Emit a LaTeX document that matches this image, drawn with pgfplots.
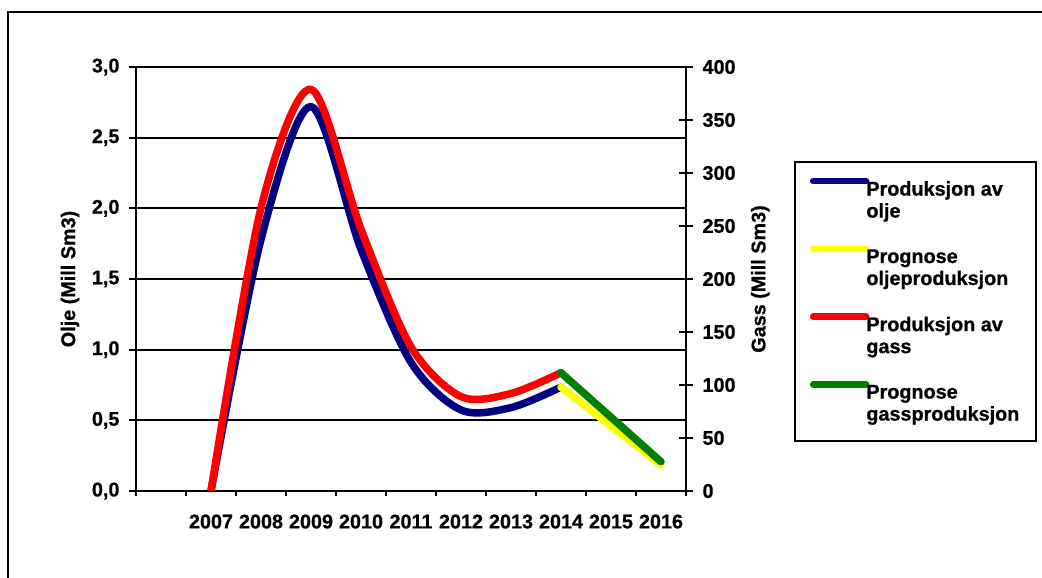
\documentclass[border=0pt]{standalone}
\usepackage{fontspec}
\setmainfont{Liberation Sans}[BoldFeatures={FakeBold=0.8}]
\usepackage{pgfplots}
\pgfplotsset{compat=1.18}
\definecolor{oilblue}{HTML}{000080}
\definecolor{prgyellow}{HTML}{FFFF00}
\definecolor{gasred}{HTML}{FF0000}
\definecolor{prggreen}{HTML}{008000}
\newcommand{\chfont}{\bfseries\fontsize{19.8}{22}\selectfont}
\begin{document}
\begin{tikzpicture}[x=1pt,y=1pt]
\useasboundingbox (0,0) rectangle (1042,578);
\draw[line width=2.2pt] (8,-30) -- (8,566) -- (1080,566);
\pgfplotsset{
  every axis/.append style={
    scale only axis, width=550pt, height=424pt,
    at={(136pt,87pt)}, anchor=south west,
    xmin=-0.5, xmax=10.5,
    font=\chfont,
    /pgf/number format/assume math mode=true,
    ticklabel style={font=\chfont},
    tick style={black, line width=2.2pt},
    axis line style={black, line width=2.2pt},
  },
}
\begin{axis}[
  ymin=0, ymax=3,
  ytick={0,0.5,...,3},
  yticklabel style={/pgf/number format/use comma, /pgf/number format/fixed,
    /pgf/number format/fixed zerofill, /pgf/number format/precision=1, /tikz/xshift=-6pt},
  xtick={1,...,10},
  xticklabels={2007,2008,2009,2010,2011,2012,2013,2014,2015,2016},
  xticklabel style={yshift=-13pt},
  minor xtick={-0.5,0.5,...,10.5},
  major x tick style={draw=none},
  minor tick length=5pt,
  major tick length=7pt,
  xtick pos=bottom, ytick pos=left,
  xtick align=outside, ytick align=outside,
  ymajorgrids,
  major grid style={black, line width=2.2pt},
  every axis y label/.style={at={(axis description cs:-0.12,0.5)}, rotate=90, anchor=center},
  ylabel={Olje (Mill Sm3)},
]
\addplot[oilblue, line width=7.5pt, smooth, tension=0.5, line cap=round, line join=round]
  coordinates {(1,0) (2,1.78) (3,2.72) (4,1.71) (5,0.91) (6,0.573) (7,0.59) (8,0.735)};
\addplot[prgyellow, line width=7.5pt, line cap=round, line join=round]
  coordinates {(8,0.735) (9,0.46) (10,0.184)};
\end{axis}
\begin{axis}[
  ymin=0, ymax=400,
  ytick={0,50,...,400},
  hide x axis,
  axis y line*=right,
  ytick align=center,
  major tick length=14pt,
  yticklabel style={/tikz/xshift=6pt},
  every axis y label/.style={at={(axis description cs:1.135,0.5)}, rotate=90, anchor=center},
  ylabel={Gass (Mill Sm3)},
  legend cell align=left,
  legend image code/.code={\path (0pt,0pt) (53pt,0pt); \draw[#1, line cap=round, overlay] (0pt,19pt) -- (53pt,19pt);},
  legend style={at={(1.196,0.778)}, anchor=north west, draw=black, line width=2.2pt,
    font=\chfont, cells={align=left}, row sep=26.3pt, inner xsep=15pt, inner ysep=17pt,
    /tikz/every odd column/.append style={column sep=-5pt}},
]
\addlegendimage{oilblue, line width=6.5pt}
\addlegendentry{Produksjon av\\olje}
\addlegendimage{prgyellow, line width=6.5pt}
\addlegendentry{Prognose\\oljeproduksjon}
\addplot[gasred, line width=7.5pt, smooth, tension=0.5, line cap=round, line join=round, forget plot]
  coordinates {(1,0) (2,267) (3,379) (4,247) (5,136) (6,89) (7,92) (8,111.6)};
\addlegendimage{gasred, line width=6.5pt}
\addlegendentry{Produksjon av\\gass}
\addplot[prggreen, line width=7.5pt, line cap=round, line join=round, forget plot]
  coordinates {(8,111.6) (9,69.6) (10,27.6)};
\addlegendimage{prggreen, line width=6.5pt}
\addlegendentry{Prognose\\gassproduksjon}
\end{axis}
\end{tikzpicture}
\end{document}
